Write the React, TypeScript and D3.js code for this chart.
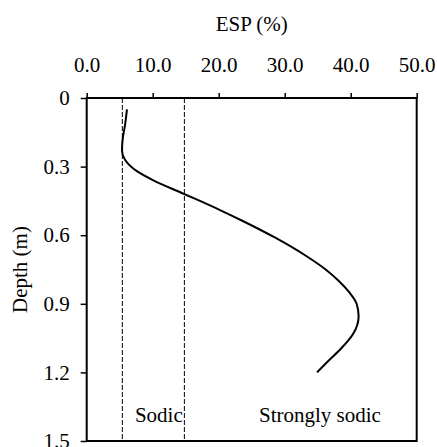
import React, { useEffect, useRef } from 'react';
import * as d3 from 'd3';

// ESP profile: depth (m) and ESP (%)
const depths = [0.05, 0.12, 0.18, 0.23, 0.27, 0.32, 0.36, 0.42, 0.49, 0.54, 0.61, 0.69, 0.75, 0.8, 0.85, 0.9, 0.955, 1.03, 1.1, 1.15, 1.2];
const espValues = [6.1, 5.8, 5.45, 5.35, 5.8, 7.6, 10.1, 14.8, 20.2, 23.8, 28.5, 33.2, 36.2, 38.2, 39.8, 40.9, 41.2, 40.4, 38.4, 36.6, 34.9];

// sodicity thresholds (dashed lines)
const thresholds = [5.4, 14.8];

const espTicks = [0, 10, 20, 30, 40, 50];
const depthTicks = [0, 0.3, 0.6, 0.9, 1.2, 1.5];

const zoneLabels = [
  { text: 'Sodic', esp: 7.3, depth: 1.416 },
  { text: 'Strongly sodic', esp: 26.1, depth: 1.416 },
];

const W = 437;
const H = 447;

const App: React.FC = () => {
  const svgRef = useRef<SVGSVGElement>(null);

  useEffect(() => {
    if (!svgRef.current) return;
    const svg = d3.select(svgRef.current);
    svg.selectAll('*').remove();

    const left = 86.7, right = 416.7, top = 98, bottom = 441;
    const x = d3.scaleLinear().domain([0, 50]).range([left, right]);
    const y = d3.scaleLinear().domain([0, 1.5]).range([top, bottom]);

    const font = "'Liberation Serif', 'Times New Roman', serif";
    const fs = '21px';

    // threshold lines
    svg.selectAll('.thr')
      .data(thresholds)
      .enter().append('line')
      .attr('x1', d => x(d)).attr('x2', d => x(d))
      .attr('y1', top).attr('y2', bottom)
      .attr('stroke', '#000')
      .attr('stroke-width', 1)
      .attr('stroke-dasharray', '5,2');

    // top axis
    const gx = svg.append('g')
      .attr('transform', `translate(0,${top})`)
      .call(d3.axisTop(x).tickValues(espTicks).tickSize(5).tickSizeOuter(0).tickPadding(20.7).tickFormat(d3.format('.1f')));
    gx.select('.domain').remove();
    gx.selectAll('line').attr('stroke', '#000').attr('stroke-width', 1.5);
    gx.selectAll('text').style('font-family', font).style('font-size', fs).attr('fill', '#000');

    // left axis
    const gy = svg.append('g')
      .attr('transform', `translate(${left},0)`)
      .call(d3.axisLeft(y).tickValues(depthTicks).tickSize(6).tickSizeOuter(0).tickPadding(11)
        .tickFormat(d => (+d === 0 ? '0' : d3.format('.1f')(+d))));
    gy.select('.domain').remove();
    gy.selectAll('line').attr('stroke', '#000').attr('stroke-width', 1.5);
    gy.selectAll('text').style('font-family', font).style('font-size', fs).attr('fill', '#000');

    // frame
    svg.append('rect')
      .attr('x', left).attr('y', top)
      .attr('width', right - left).attr('height', bottom - top)
      .attr('fill', 'none')
      .attr('stroke', '#000')
      .attr('stroke-width', 2);

    // profile curve
    const line = d3.line<number>()
      .x((_, i) => x(espValues[i]))
      .y(d => y(d))
      .curve(d3.curveMonotoneY);

    svg.append('path')
      .datum(depths)
      .attr('fill', 'none')
      .attr('stroke', '#000')
      .attr('stroke-width', 2)
      .attr('d', line);

    // zone labels
    svg.selectAll('.zone')
      .data(zoneLabels)
      .enter().append('text')
      .attr('x', d => x(d.esp))
      .attr('y', d => y(d.depth))
      .style('font-family', font)
      .style('font-size', fs)
      .text(d => d.text);

    // axis titles
    svg.append('text')
      .attr('x', (left + right) / 2)
      .attr('y', 30.7)
      .attr('text-anchor', 'middle')
      .style('font-family', font)
      .style('font-size', fs)
      .text('ESP (%)');

    svg.append('text')
      .attr('transform', `translate(27,${(top + bottom) / 2}) rotate(-90)`)
      .attr('text-anchor', 'middle')
      .style('font-family', font)
      .style('font-size', fs)
      .text('Depth (m)');
  }, []);

  return (
    <svg ref={svgRef} width={W} height={H} viewBox={`0 0 ${W} ${H}`}
      style={{ position: 'absolute', left: 0, top: 0, background: '#fff' }} />
  );
};

export default App;
